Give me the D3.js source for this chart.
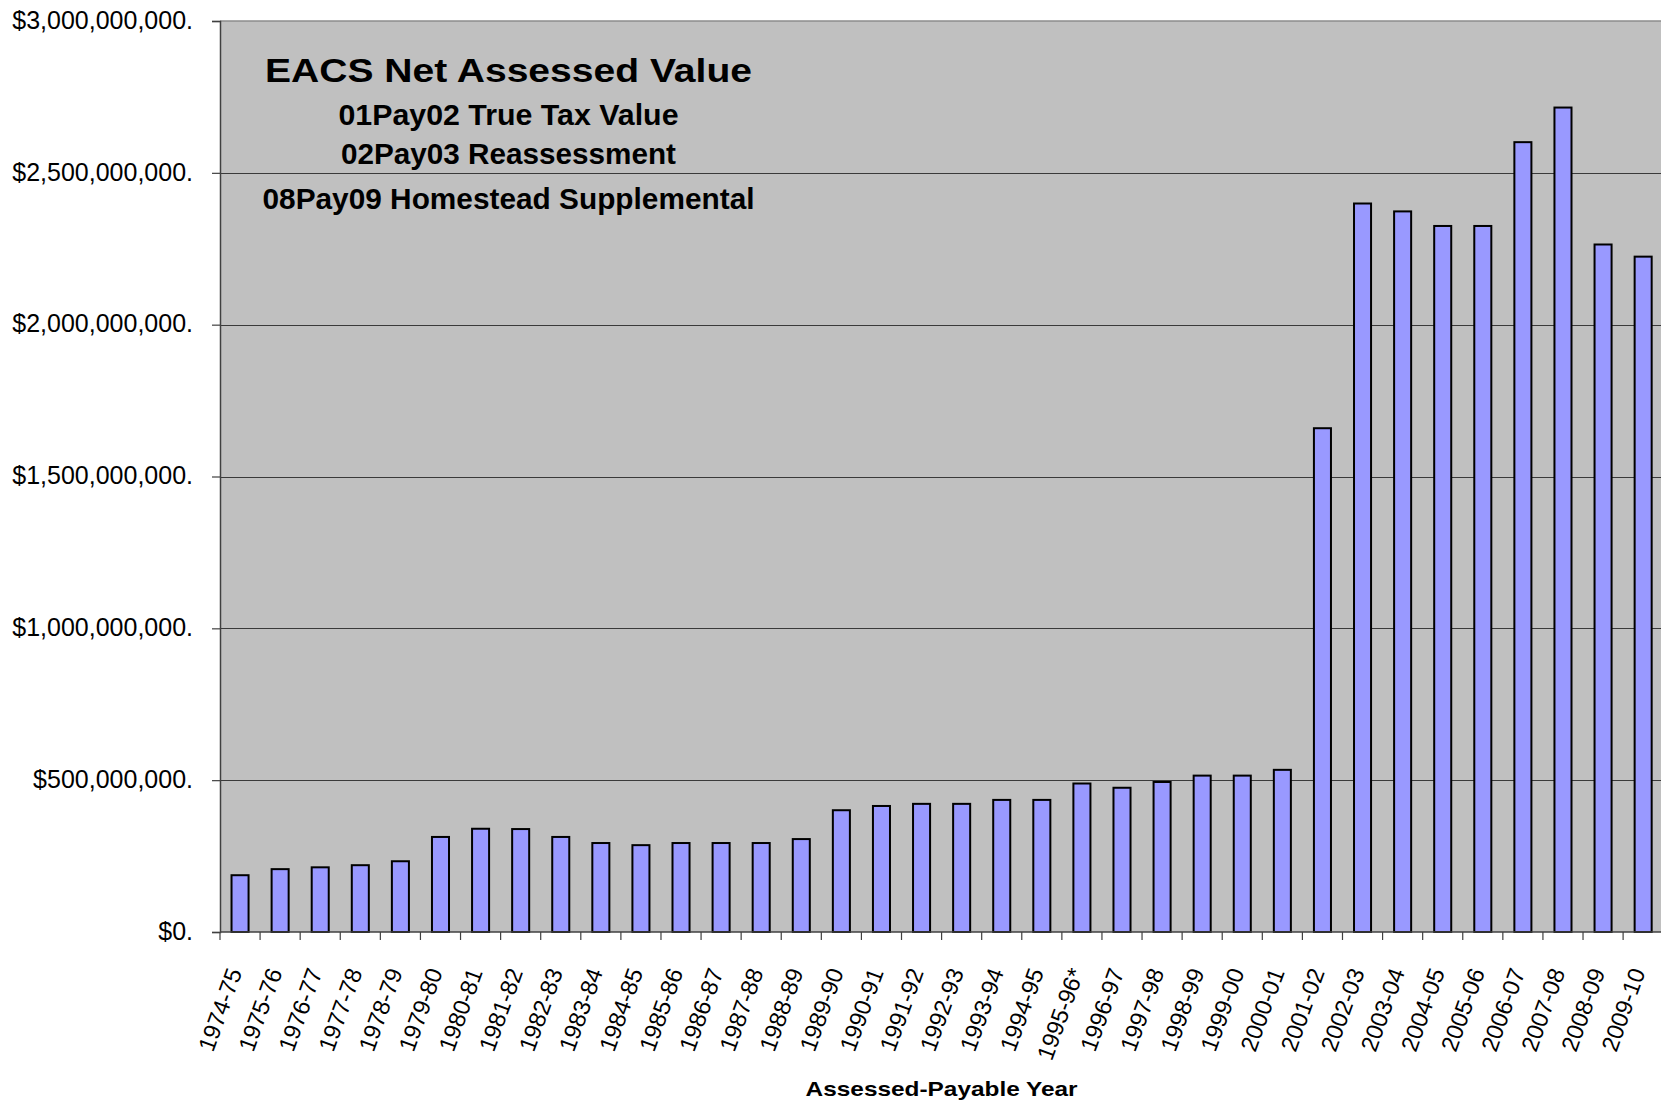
<!DOCTYPE html>
<html>
<head>
<meta charset="utf-8">
<script src="https://cdn.jsdelivr.net/npm/d3@7"></script>
<style>
  html, body { margin: 0; padding: 0; background: #ffffff; overflow: hidden; }
  svg { display: block; font-family: "Liberation Sans", Arial, sans-serif; }
</style>
</head>
<body>
<svg id="chart" width="1661" height="1105"></svg>
<script>
// ---- data ----
const categories = ["1974-75","1975-76","1976-77","1977-78","1978-79","1979-80","1980-81","1981-82","1982-83","1983-84",
  "1984-85","1985-86","1986-87","1987-88","1988-89","1989-90","1990-91","1991-92","1992-93","1993-94",
  "1994-95","1995-96*","1996-97","1997-98","1998-99","1999-00","2000-01","2001-02","2002-03","2003-04",
  "2004-05","2005-06","2006-07","2007-08","2008-09","2009-10"];
const values = [187e6, 207e6, 213e6, 220e6, 233e6, 313e6, 340e6, 339e6, 313e6, 293e6,
  286e6, 293e6, 293e6, 293e6, 306e6, 401e6, 415e6, 422e6, 422e6, 435e6,
  435e6, 489e6, 475e6, 494e6, 515e6, 515e6, 534e6, 1659e6, 2399e6, 2373e6,
  2325e6, 2325e6, 2601e6, 2715e6, 2264e6, 2224e6];
const yTicks = [0, 500e6, 1000e6, 1500e6, 2000e6, 2500e6, 3000e6];
const titleLines = ["EACS Net Assessed Value", "01Pay02 True Tax Value", "02Pay03 Reassessment", "08Pay09 Homestead Supplemental"];
const xAxisTitle = "Assessed-Payable Year";

// ---- layout ----
const plotLeft = 220, plotRight = 1663.2, plotTop = 21, plotBottom = 932;
const svg = d3.select("#chart");

const x = d3.scaleBand().domain(categories).range([plotLeft, plotRight])
  .paddingInner(0.575).paddingOuter(0.2875);
const y = d3.scaleLinear().domain([0, 3e9]).range([plotBottom, plotTop]);
const step = x.step();
const boundary = i => plotLeft + i * step;

// plot background
svg.append("rect").attr("x", plotLeft).attr("y", plotTop)
  .attr("width", plotRight - plotLeft).attr("height", plotBottom - plotTop)
  .attr("fill", "#c0c0c0");

// gridlines
svg.append("g").selectAll("line").data(yTicks.filter(d => d > 0 && d < 3e9)).join("line")
  .attr("x1", plotLeft).attr("x2", plotRight)
  .attr("y1", d => Math.round(y(d)) + 0.5).attr("y2", d => Math.round(y(d)) + 0.5)
  .attr("stroke", "#3a3a3a").attr("stroke-width", 1.2);
// top border
svg.append("line").attr("x1", plotLeft).attr("x2", plotRight)
  .attr("y1", plotTop).attr("y2", plotTop).attr("stroke", "#8c8c8c").attr("stroke-width", 1.5);

// bars
svg.append("g").selectAll("rect").data(categories).join("rect")
  .attr("x", d => x(d))
  .attr("width", x.bandwidth())
  .attr("y", (d, i) => y(values[i]))
  .attr("height", (d, i) => plotBottom - y(values[i]))
  .attr("fill", "#9999ff").attr("stroke", "#000").attr("stroke-width", 2);

// y axis
const yAxis = d3.axisLeft(y).tickValues(yTicks).tickSize(8).tickPadding(19)
  .tickFormat(d => d3.format("$,")(d) + ".");
const gy = svg.append("g").attr("transform", `translate(${plotLeft},0)`).call(yAxis);
gy.select(".domain").attr("stroke", "#404040").attr("stroke-width", 1.5);
gy.selectAll(".tick line").attr("stroke", "#404040").attr("stroke-width", 1.2);
gy.selectAll(".tick text").attr("font-size", 25).attr("fill", "#000")
  .attr("font-family", '"Liberation Sans", Arial, sans-serif').attr("dy", "0.29em");

// x axis line
svg.append("line").attr("x1", plotLeft).attr("x2", plotRight)
  .attr("y1", plotBottom).attr("y2", plotBottom).attr("stroke", "#404040").attr("stroke-width", 1.5);
// x ticks at band boundaries
svg.append("g").selectAll("line").data(d3.range(categories.length + 1)).join("line")
  .attr("x1", i => boundary(i)).attr("x2", i => boundary(i))
  .attr("y1", plotBottom).attr("y2", plotBottom + 8)
  .attr("stroke", "#404040").attr("stroke-width", 1.2);
// x labels
svg.append("g").selectAll("text").data(categories).join("text")
  .attr("transform", d => `translate(${x(d) + x.bandwidth() / 2 + 2.5},${972}) rotate(-70)`)
  .attr("text-anchor", "end").attr("font-size", 23.5).attr("fill", "#000")
  .text(d => d);

// x axis title
svg.append("text").attr("x", (plotLeft + plotRight) / 2).attr("y", 1096)
  .attr("text-anchor", "middle").attr("font-size", 21).attr("font-weight", "bold")
  .attr("textLength", 272).attr("lengthAdjust", "spacingAndGlyphs")
  .text(xAxisTitle);

// title block
const titleSpecs = [
  { y: 82.3, size: 34, len: 487 },
  { y: 125, size: 29, len: 340 },
  { y: 164.3, size: 29, len: 335 },
  { y: 209, size: 29, len: 492 }
];
svg.append("g").selectAll("text").data(titleLines).join("text")
  .attr("x", 508.5).attr("y", (d, i) => titleSpecs[i].y)
  .attr("text-anchor", "middle").attr("font-weight", "bold")
  .attr("font-size", (d, i) => titleSpecs[i].size)
  .attr("textLength", (d, i) => titleSpecs[i].len).attr("lengthAdjust", "spacingAndGlyphs")
  .text(d => d);
</script>
</body>
</html>
